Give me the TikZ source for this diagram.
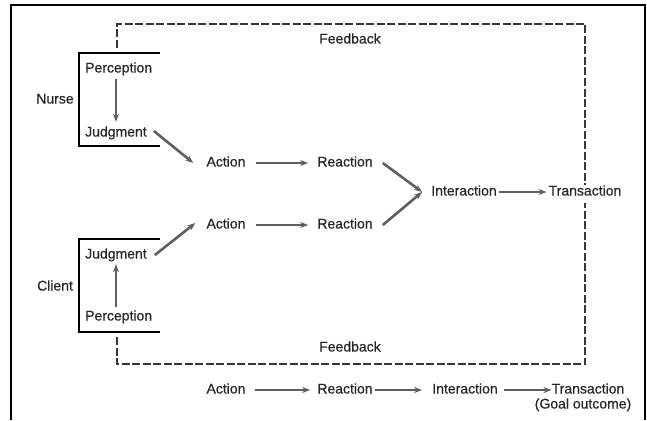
\documentclass[tikz,border=0pt]{standalone}
\usepackage{fontspec}
\setmainfont{Liberation Sans}
\newfontfamily\scanfont[FakeBold=0.6]{Liberation Sans}
\usepackage{tikz}
\usetikzlibrary{positioning,arrows.meta}
\definecolor{inkgray}{RGB}{40,40,40}
\definecolor{arrowgray}{RGB}{95,95,95}
\definecolor{dashgray}{RGB}{55,55,55}

\begin{document}
\begin{tikzpicture}[x=1pt,y=-1pt,node distance=119pt,>={Stealth[length=8pt,width=6pt]}]
  \tikzstyle{word}=[inner sep=0pt,text height=10pt,text depth=3pt,text=inkgray,font=\scanfont\fontsize{14}{16}\selectfont]
  \tikzstyle{flow}=[->,draw=arrowgray,fill=arrowgray,line width=2pt]
  \tikzstyle{feedback}=[draw=dashgray,line width=1.6pt,dash pattern=on 8pt off 2.5pt]
  \tikzstyle{bracket}=[draw=black,line width=1.4pt]
  \useasboundingbox (0,0) rectangle (647,420);
  \draw[line width=2.5pt] (11,420) -- (11,5) -- (645,5) -- (645,420);

  % nurse
  \node[word] (lnurse) at (55,100) {Nurse};
  \node[word,anchor=west] (nperc) at (85,69) {Perception};
  \node[word,anchor=west] (njudg) at (85,133) {Judgment};
  \draw[bracket] (160,53) -| (79,146) -- (160,146);

  % client
  \node[word] (lclient) at (55,287) {Client};
  \node[word,anchor=west] (cjudg) at (85,255) {Judgment};
  \node[word,anchor=west] (cperc) at (85,317) {Perception};
  \draw[bracket] (160,239) -| (79,332) -- (160,332);

  % middle
  \node[word] (nact) at (226,163) {Action};
  \node[word,right of=nact] (nreac) {Reaction};
  \node[word,right of=nreac,yshift=-29pt] (inter) {Interaction};
  \node[word,right of=inter,node distance=121pt] (trans) {Transaction};
  \node[word,below of=nact,node distance=62pt] (cact) {Action};
  \node[word,right of=cact] (creac) {Reaction};

  % feedback
  \node[word] (fbtop) at (350,40) {Feedback};
  \node[word] (fbbot) at (350,348) {Feedback};
  \coordinate (fbA) at (117,48);
  \coordinate (fbtl) at (117,24);
  \coordinate (fbC) at (117,337);
  \coordinate (fbbl) at (117,364);
  \draw[feedback] (fbA) -- (fbtl) -| (trans.north);
  \draw[feedback,shorten >=4pt] (fbC) -- (fbbl) -| (trans.south);

  % bottom row
  \node[word] (bact) at (226,390) {Action};
  \node[word,right of=bact] (breac) {Reaction};
  \node[word,right of=breac,node distance=120pt] (binter) {Interaction};
  \node[word,right of=binter,node distance=123pt] (btrans) {Transaction};
  \node[word,below of=btrans,node distance=15pt,xshift=-5pt] (bgoal) {(Goal outcome)};

  % edges
  \draw[flow,line width=2.6pt,shorten <=3.5pt,shorten >=4.5pt] (nperc.south -| njudg.north) -- (njudg.north);
  \draw[flow,line width=2.6pt,shorten <=3.5pt,shorten >=2.5pt] (cperc.north -| cjudg.south) -- (cjudg.south);
  \draw[flow,line width=2.6pt] ([xshift=7pt,yshift=2pt]njudg.east) -- ([xshift=-13pt]nact.west);
  \draw[flow,line width=2.6pt] ([xshift=8pt]cjudg.east) -- ([xshift=-11pt,yshift=2pt]cact.west);
  \draw[flow,shorten <=10pt,shorten >=9pt] (nact) -- (nreac);
  \draw[flow,shorten <=10pt,shorten >=9pt] (cact) -- (creac);
  \draw[flow,line width=2.6pt] ([xshift=10pt]nreac.east) -- ([xshift=-9pt]inter.west);
  \draw[flow,line width=2.6pt] ([xshift=10pt]creac.east) -- ([xshift=-9pt]inter.west);
  \draw[flow,shorten <=2pt,shorten >=2pt] (inter) -- (trans);
  \draw[flow,shorten <=9pt,shorten >=7pt] (bact) -- (breac);
  \draw[flow,shorten <=2pt,shorten >=10pt] (breac) -- (binter);
  \draw[flow,shorten <=6pt,shorten >=0pt] (binter) -- (btrans);

\end{tikzpicture}
\end{document}
